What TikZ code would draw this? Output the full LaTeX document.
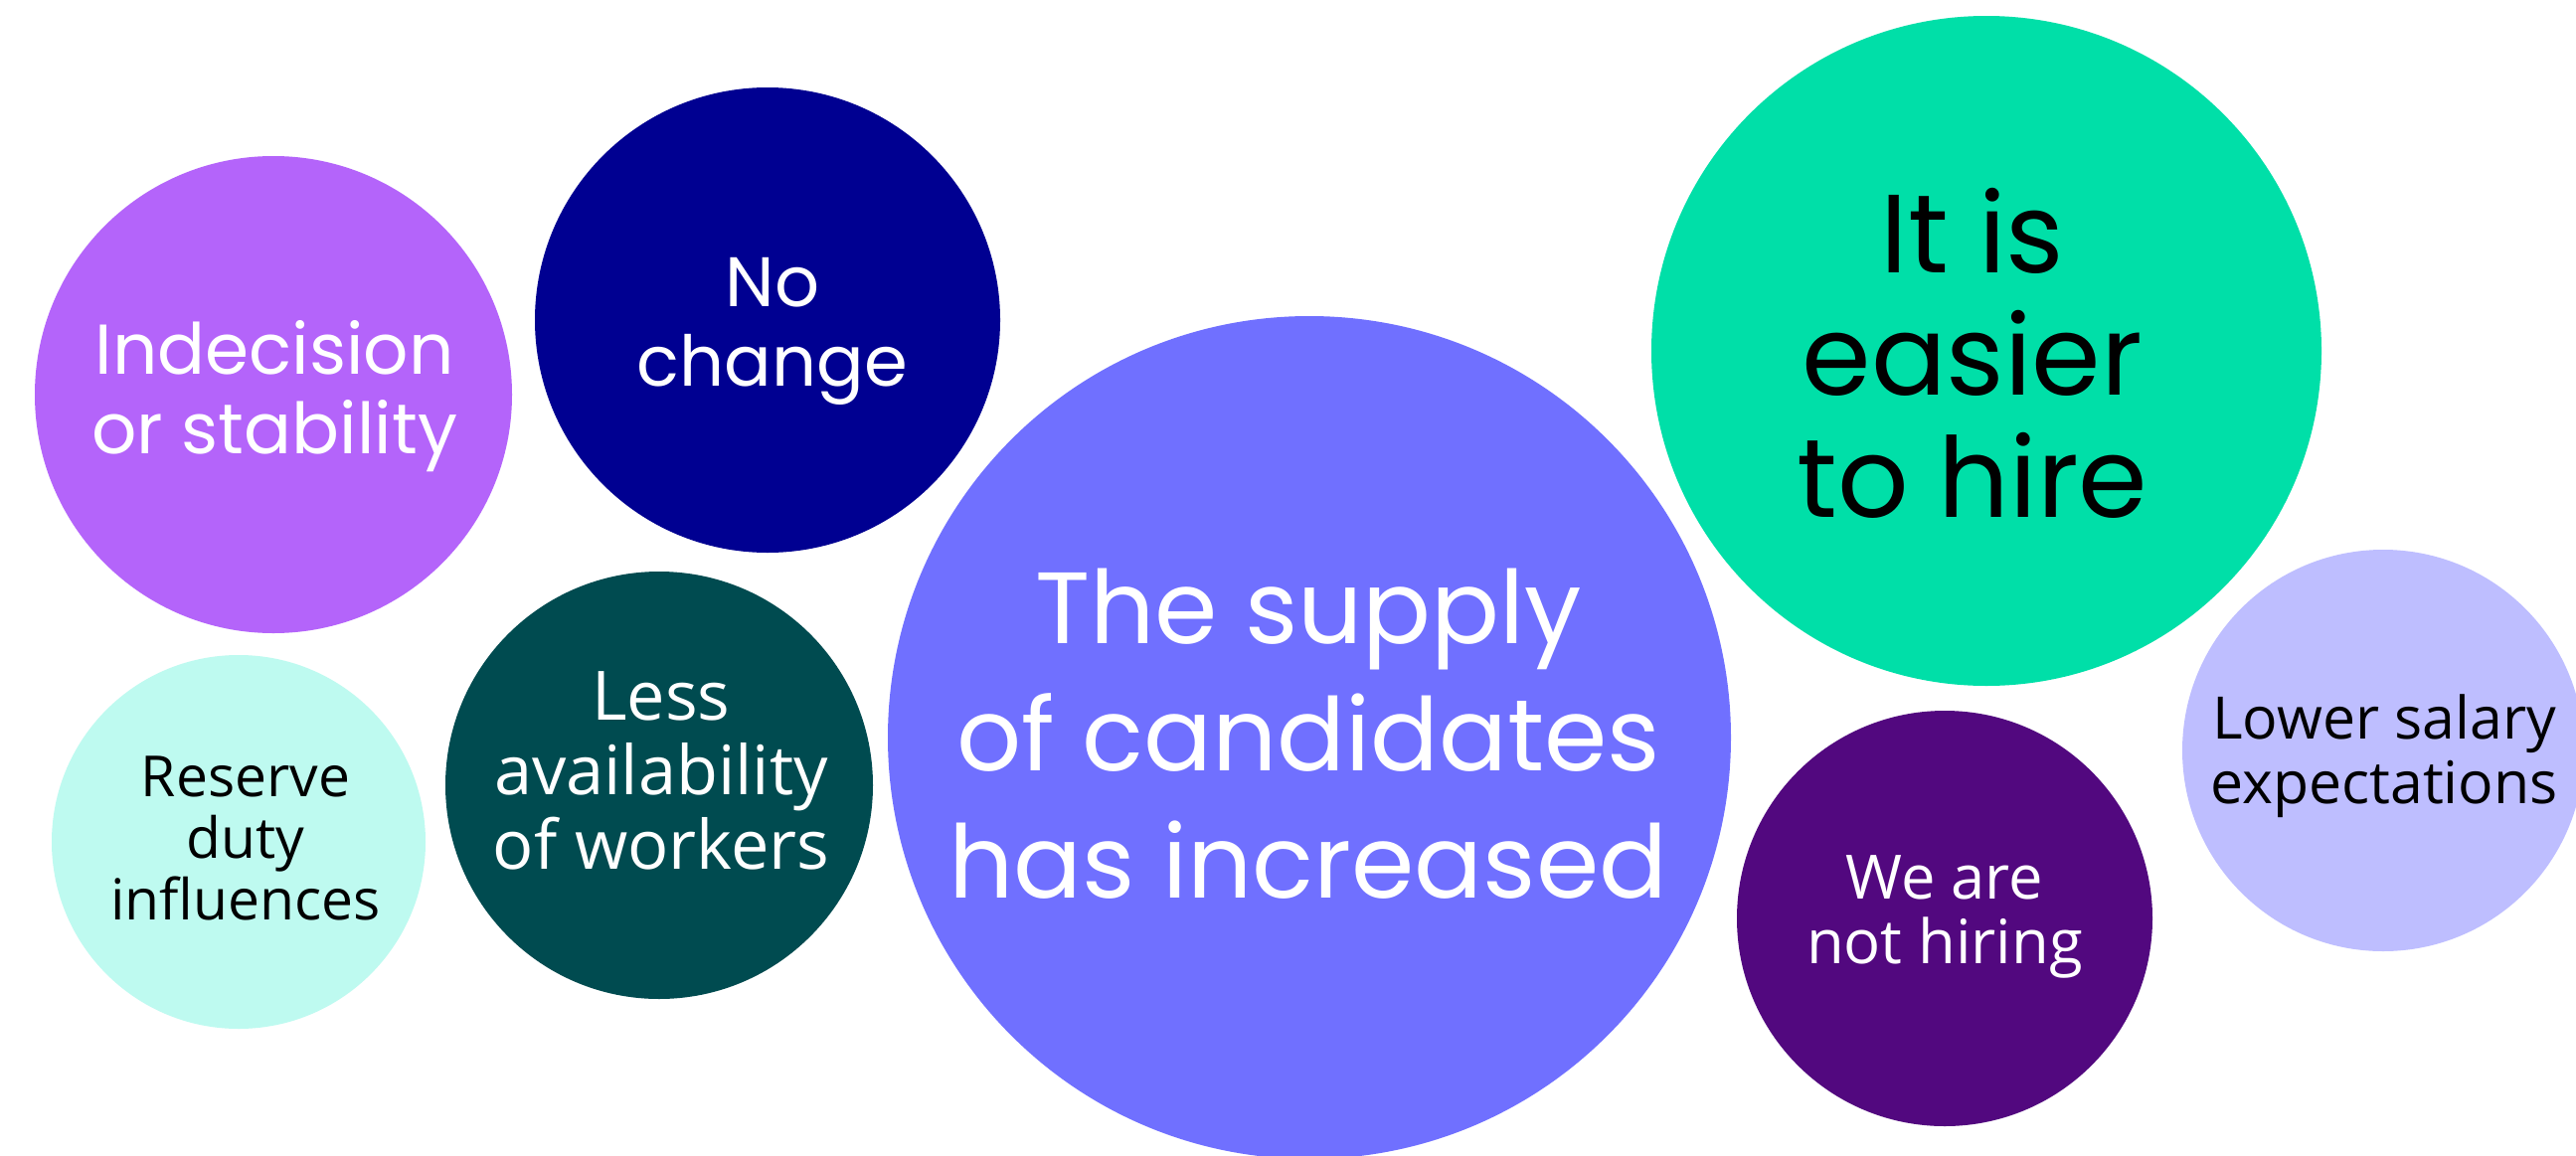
\documentclass[tikz,border=0pt]{standalone}
\usepackage{fontspec}
\newfontfamily\pop{Poppins}
\newfontfamily\hum{Open Sans}
\definecolor{cPurple}{HTML}{B464FA}
\definecolor{cNavy}{HTML}{000091}
\definecolor{cCyan}{HTML}{BEFAF0}
\definecolor{cTeal}{HTML}{004B50}
\definecolor{cBlue}{HTML}{7070FF}
\definecolor{cGreen}{HTML}{00DFA8}
\definecolor{cPlum}{HTML}{52087F}
\definecolor{cLav}{HTML}{BEBEFF}
\newcommand\mylines[1]{\vtop{\halign{\hfil##\hfil\cr#1\crcr}}}
\tikzset{
  bubble/.style={circle, inner sep=0pt, draw=none},
  txt/.style={anchor=base, inner sep=0pt},
}
\begin{document}
\begin{tikzpicture}[x=1pt,y=-1pt]
\useasboundingbox (0,0) rectangle (2591,1162);
\fill[white] (0,0) rectangle (2591,1162);
\clip (0,0) rectangle (2591,1162);
% bubbles
\node[bubble, fill=cPurple, minimum size=480pt] (b1) at (275,397) {};
\node[bubble, fill=cNavy, minimum size=468pt] (b2) at (772,322) {};
\node[bubble, fill=cCyan, minimum size=376pt] (b3) at (240,847) {};
\node[bubble, fill=cTeal, minimum size=430pt] (b4) at (663,790) {};
\node[bubble, fill=cBlue, minimum size=848pt] (b5) at (1317,742) {};
\node[bubble, fill=cGreen, minimum size=674pt] (b6) at (1998,353) {};
\node[bubble, fill=cPlum, minimum size=418pt] (b7) at (1956,924) {};
\node[bubble, fill=cLav, minimum size=404pt] (b8) at (2397,755) {};
% labels
\node[txt, text=white, font={\pop\fontsize{71}{80}\selectfont}] (t1) at (276,376) {\mylines{Indecision\cr or stability}};
\node[txt, text=white, font={\pop\fontsize{70.5}{80.7}\selectfont}] (t2) at (777,308) {\mylines{No\cr change}};
\node[txt, text=black, font={\hum\fontsize{57}{62}\selectfont}] (t3) at (247,801) {\mylines{Reserve\cr duty\cr influences}};
\node[txt, text=white, font={\hum\fontsize{68.5}{75}\selectfont}] (t4) at (665,724) {\mylines{Less\cr availability\cr of workers}};
\node[txt, text=white, font={\pop\fontsize{102}{128}\selectfont}] (t5) at (1316,647) {\mylines{The supply\cr of candidates\cr has increased}};
\node[txt, text=black, font={\pop\fontsize{112}{123}\selectfont}] (t6) at (1984,274) {\mylines{It is\cr easier\cr to hire}};
\node[txt, text=white, font={\hum\fontsize{61.5}{65.5}\selectfont}] (t7) at (1956,904) {\mylines{We are\cr not hiring}};
\node[txt, text=black, font={\hum\fontsize{59}{65}\selectfont}] (t8) at (2398,743) {\mylines{Lower salary\cr expectations}};
\end{tikzpicture}
\end{document}
